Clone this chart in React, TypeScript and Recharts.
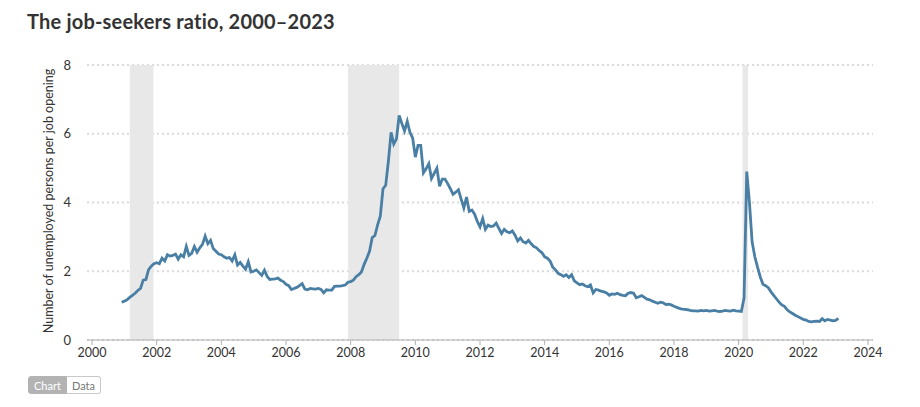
import React from 'react'
import {
  LineChart,
  Line,
  XAxis,
  YAxis,
  CartesianGrid,
  ReferenceArea,
} from 'recharts'

// unemployed persons per job opening, monthly (Jan..Dec)
const ratio2000 = [1.1] // Dec only
const ratio2001 = [1.13, 1.17, 1.24, 1.3, 1.36, 1.44, 1.5, 1.74, 1.76, 2.05, 2.15, 2.22]
const ratio2002 = [2.25, 2.22, 2.38, 2.3, 2.48, 2.44, 2.46, 2.5, 2.35, 2.48, 2.42, 2.72]
const ratio2003 = [2.46, 2.52, 2.72, 2.55, 2.68, 2.78, 3.02, 2.8, 2.9, 2.66, 2.58, 2.5]
const ratio2004 = [2.48, 2.42, 2.38, 2.4, 2.3, 2.48, 2.18, 2.26, 2.15, 2.06, 2.28, 1.98]
const ratio2005 = [2.0, 2.04, 1.96, 1.88, 2.03, 1.85, 1.76, 1.77, 1.78, 1.8, 1.74, 1.7]
const ratio2006 = [1.62, 1.58, 1.47, 1.5, 1.53, 1.58, 1.64, 1.48, 1.46, 1.5, 1.49, 1.48]
const ratio2007 = [1.5, 1.47, 1.37, 1.46, 1.45, 1.45, 1.56, 1.57, 1.57, 1.58, 1.6, 1.68]
const ratio2008 = [1.7, 1.74, 1.84, 1.9, 1.98, 2.2, 2.38, 2.58, 2.98, 3.04, 3.35, 3.6]
const ratio2009 = [4.4, 4.5, 5.2, 6.04, 5.7, 5.85, 6.53, 6.3, 6.08, 6.36, 6.04, 5.88]
const ratio2010 = [5.32, 5.66, 5.66, 4.86, 4.98, 5.13, 4.7, 4.85, 5.0, 4.47, 4.68, 4.68]
const ratio2011 = [4.55, 4.4, 4.24, 4.3, 4.37, 4.1, 3.84, 4.16, 3.74, 3.78, 3.66, 3.45]
const ratio2012 = [3.29, 3.53, 3.22, 3.34, 3.3, 3.32, 3.4, 3.25, 3.1, 3.22, 3.15, 3.12]
const ratio2013 = [3.17, 3.05, 2.88, 2.97, 2.86, 2.82, 2.9, 2.8, 2.72, 2.68, 2.6, 2.54]
const ratio2014 = [2.42, 2.38, 2.3, 2.12, 2.04, 1.94, 1.9, 1.85, 1.9, 1.82, 1.9, 1.72]
const ratio2015 = [1.66, 1.61, 1.63, 1.58, 1.55, 1.6, 1.37, 1.47, 1.45, 1.42, 1.4, 1.37]
const ratio2016 = [1.3, 1.34, 1.33, 1.36, 1.32, 1.3, 1.29, 1.36, 1.38, 1.36, 1.23, 1.26]
const ratio2017 = [1.29, 1.24, 1.19, 1.17, 1.13, 1.1, 1.07, 1.1, 1.08, 1.03, 1.04, 1.02]
const ratio2018 = [0.98, 0.95, 0.92, 0.9, 0.89, 0.88, 0.86, 0.85, 0.85, 0.84, 0.86, 0.85]
const ratio2019 = [0.86, 0.84, 0.85, 0.86, 0.84, 0.83, 0.84, 0.86, 0.85, 0.84, 0.87, 0.85]
const ratio2020 = [0.84, 0.83, 1.22, 4.9, 4.0, 2.85, 2.42, 2.12, 1.84, 1.62, 1.58, 1.52]
const ratio2021 = [1.4, 1.3, 1.2, 1.1, 1.02, 0.98, 0.88, 0.82, 0.77, 0.72, 0.68, 0.64]
const ratio2022 = [0.6, 0.58, 0.54, 0.53, 0.54, 0.55, 0.54, 0.62, 0.56, 0.6, 0.58, 0.56]
const ratio2023 = [0.57, 0.63] // Jan, Feb

const years = [
  [2000, ratio2000, 11],
  [2001, ratio2001, 0],
  [2002, ratio2002, 0],
  [2003, ratio2003, 0],
  [2004, ratio2004, 0],
  [2005, ratio2005, 0],
  [2006, ratio2006, 0],
  [2007, ratio2007, 0],
  [2008, ratio2008, 0],
  [2009, ratio2009, 0],
  [2010, ratio2010, 0],
  [2011, ratio2011, 0],
  [2012, ratio2012, 0],
  [2013, ratio2013, 0],
  [2014, ratio2014, 0],
  [2015, ratio2015, 0],
  [2016, ratio2016, 0],
  [2017, ratio2017, 0],
  [2018, ratio2018, 0],
  [2019, ratio2019, 0],
  [2020, ratio2020, 0],
  [2021, ratio2021, 0],
  [2022, ratio2022, 0],
  [2023, ratio2023, 0],
] as const

// recessions (decimal years)
const recessions = [
  [2001.17, 2001.9],
  [2007.92, 2009.5],
  [2020.12, 2020.29],
]

const xTicks = [2000, 2002, 2004, 2006, 2008, 2010, 2012, 2014, 2016, 2018, 2020, 2022, 2024]
const yTicks = [0, 2, 4, 6, 8]

const data = years.flatMap(([yr, vals, startMonth]) =>
  vals.map((v, i) => ({ x: yr + (startMonth + i) / 12, ratio: v }))
)

const FONT = 'Lato, "Open Sans", sans-serif'

export default function App() {
  return (
    <div style={{ position: 'relative', width: 920, height: 407, fontFamily: FONT, background: '#fff' }}>
      <style>{'body{margin:0}'}</style>
      <div
        style={{
          position: 'absolute',
          left: 27,
          top: 9,
          fontSize: 20,
          fontWeight: 700,
          letterSpacing: 0.2,
          color: '#333',
        }}
      >
        The job-seekers ratio, 2000–2023
      </div>
      <div
        style={{
          position: 'absolute',
          left: 48,
          top: 201,
          transform: 'translate(-50%, -50%) rotate(-90deg)',
          whiteSpace: 'nowrap',
          fontSize: 12.5,
          color: '#333',
        }}
      >
        Number of unemployed persons per job opening
      </div>
      <LineChart
        width={920}
        height={370}
        data={data}
        margin={{ top: 65, right: 47, left: 0, bottom: 0 }}
        style={{ position: 'absolute', left: 0, top: 0 }}
      >
        {recessions.map(([a, b], i) => (
          <ReferenceArea key={i} x1={a} x2={b} y1={0} y2={8} fill="#e8e8e8" fillOpacity={1} stroke="none" />
        ))}
        <CartesianGrid vertical={false} stroke="#dadada" strokeWidth={2} strokeDasharray="2 3" />
        <XAxis
          dataKey="x"
          type="number"
          domain={[2000, 2024]}
          ticks={xTicks}
          padding={{ left: 5, right: 5 }}
          height={30}
          tickSize={5}
          tickMargin={3}
          stroke="#b0b0b0"
          tick={{ fill: '#333', fontSize: 12.5 }}
          allowDataOverflow
        />
        <YAxis
          type="number"
          domain={[0, 8]}
          ticks={yTicks}
          width={87}
          axisLine={false}
          tickLine={false}
          tickSize={0}
          tickMargin={16}
          tick={{ fill: '#333', fontSize: 13 }}
        />
        <Line
          type="linear"
          dataKey="ratio"
          stroke="#4a7fa5"
          strokeWidth={2.8}
          dot={false}
          isAnimationActive={false}
        />
      </LineChart>
      <div
        style={{
          position: 'absolute',
          left: 28,
          top: 376,
          display: 'flex',
          fontSize: 11,
          height: 18,
        }}
      >
        <div
          style={{
            background: '#b3b3b3',
            color: '#fff',
            padding: '0 5px',
            lineHeight: '18px',
            borderRadius: '3px 0 0 3px',
            border: '1px solid #b3b3b3',
          }}
        >
          Chart
        </div>
        <div
          style={{
            background: '#fff',
            color: '#777',
            padding: '0 5px',
            lineHeight: '18px',
            borderRadius: '0 3px 3px 0',
            border: '1px solid #c8c8c8',
            borderLeft: 'none',
          }}
        >
          Data
        </div>
      </div>
    </div>
  )
}
